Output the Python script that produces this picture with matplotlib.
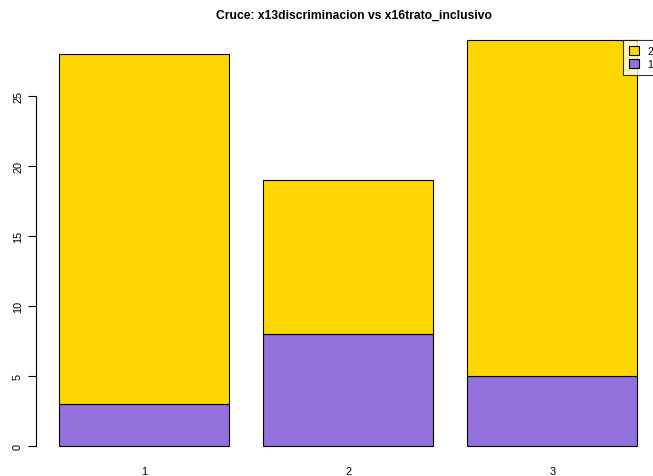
import numpy as np
import matplotlib.pyplot as plt
import matplotlib.patches as patches

plt.rcParams['font.family'] = ['Liberation Sans', 'DejaVu Sans']

# data (counts per x13discriminacion level, split by x16trato_inclusivo)
categories = ["1", "2", "3"]
level_1 = [3, 8, 5]
level_2 = [25, 11, 24]
legend_labels = ["2", "1"]
colors = {"1": "#9370DB", "2": "#FFD700"}
yticks = [0, 5, 10, 15, 20, 25]

W, H = 653, 477
fig = plt.figure(figsize=(W / 100, H / 100), dpi=100)

# plot region in pixels (R style, extends a bit past the right edge)
left_px, right_px = 35.5, 660.5
top_px, bottom_px = 24.8, 463.2
ax = fig.add_axes([left_px / W, 1 - bottom_px / H,
                   (right_px - left_px) / W, (bottom_px - top_px) / H])

x = 0.7 + 1.2 * np.arange(len(categories))
ax.bar(x, level_1, width=1, color=colors["1"], edgecolor="black", linewidth=0.8)
ax.bar(x, level_2, width=1, bottom=level_1, color=colors["2"],
       edgecolor="black", linewidth=0.8)

tot = np.array(level_1) + np.array(level_2)
ymax = tot.max()
ax.set_ylim(-0.04 * ymax, ymax * 1.04)
ax.set_xlim(0.2 - 0.136, 3.6 + 0.136)

for s in ["top", "right", "bottom"]:
    ax.spines[s].set_visible(False)
ax.spines["left"].set_bounds(0, 25)
ax.spines["left"].set_linewidth(0.8)

ax.set_yticks(yticks)
ax.set_yticklabels([str(t) for t in yticks], rotation=90, va="center", fontsize=7.8)
ax.tick_params(axis="y", length=6, width=0.8, pad=3)
ax.set_xticks(x)
ax.set_xticklabels(categories, fontsize=7.8)
ax.tick_params(axis="x", length=0, pad=3)

fig.text(354 / W, 1 - 16 / H, "Cruce: x13discriminacion vs x16trato_inclusivo",
         ha="center", va="center", fontsize=8.7, fontweight="bold")

handles = [patches.Patch(facecolor=colors[l], edgecolor="black", linewidth=0.8)
           for l in legend_labels]
leg = fig.legend(handles, legend_labels, loc="upper left",
                 bbox_to_anchor=(623 / W, 1 - 41 / H), fontsize=7.5,
                 frameon=True, fancybox=False, borderaxespad=0,
                 handlelength=0.9, handleheight=0.9, handletextpad=0.8,
                 labelspacing=0.25, borderpad=0.6)
leg.get_frame().set_edgecolor("black")
leg.get_frame().set_linewidth(0.8)

fig.savefig("out.png", dpi=100)
